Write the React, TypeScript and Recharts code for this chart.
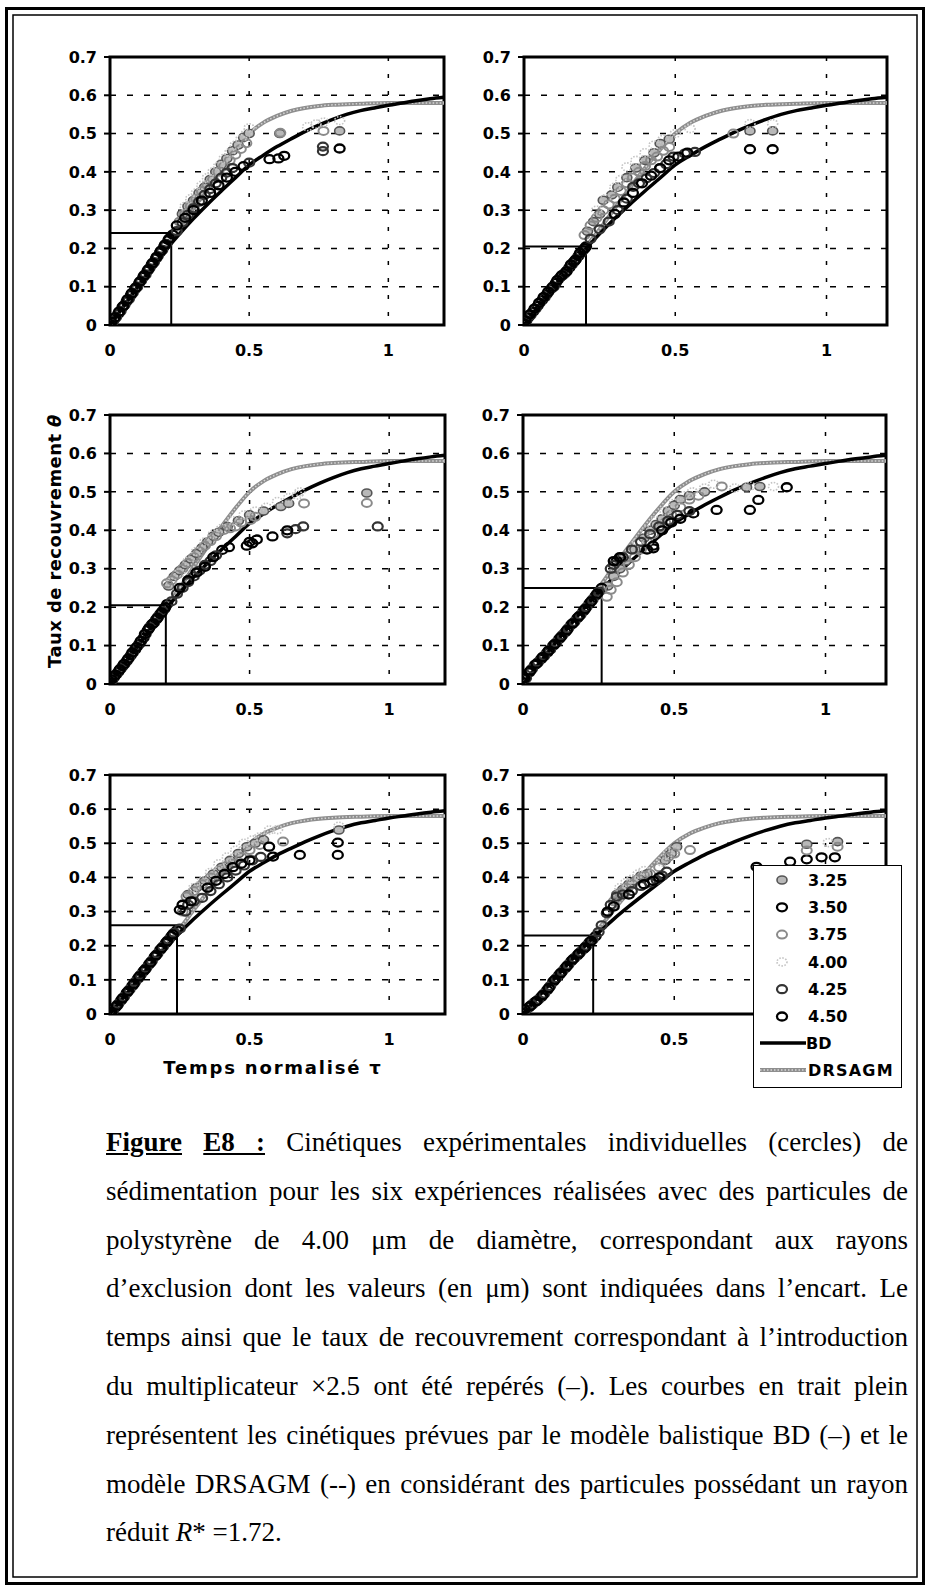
import React from 'react';
import {
  ComposedChart,
  CartesianGrid,
  XAxis,
  YAxis,
  Scatter,
  Line,
  ReferenceLine,
  ReferenceArea,
} from 'recharts';

type Pt = [number, number];

// exclusion radii (µm), one scatter series each
const SERIES_NAMES = ['3.25', '3.50', '3.75', '4.00', '4.25', '4.50'];
const X_TICKS = [0, 0.5, 1];
const Y_TICKS = [0, 0.1, 0.2, 0.3, 0.4, 0.5, 0.6, 0.7];

// model curves (same in every panel)
const BD_CURVE: Pt[] = [
  [0, 0], [0.05, 0.05], [0.1, 0.1], [0.15, 0.148], [0.2, 0.195], [0.25, 0.238],
  [0.3, 0.278], [0.35, 0.315], [0.4, 0.35], [0.45, 0.384], [0.5, 0.418],
  [0.55, 0.443], [0.6, 0.466], [0.65, 0.486], [0.7, 0.505], [0.75, 0.522],
  [0.8, 0.537], [0.85, 0.55], [0.9, 0.56], [0.95, 0.567], [1.0, 0.574],
  [1.05, 0.58], [1.1, 0.586], [1.15, 0.591], [1.2, 0.595],
];
const DRSAGM_CURVE: Pt[] = [
  [0, 0], [0.05, 0.05], [0.1, 0.1], [0.15, 0.15], [0.2, 0.2], [0.25, 0.25],
  [0.3, 0.305], [0.35, 0.358], [0.4, 0.41], [0.45, 0.458], [0.5, 0.5],
  [0.55, 0.528], [0.6, 0.546], [0.65, 0.559], [0.7, 0.567], [0.75, 0.572],
  [0.8, 0.575], [0.9, 0.578], [1.0, 0.58], [1.1, 0.58], [1.2, 0.58],
];

// panel 1
const P1_325: Pt[] = [[0.26, 0.29], [0.28, 0.31], [0.3, 0.325], [0.32, 0.345], [0.34, 0.36], [0.36, 0.38], [0.38, 0.4], [0.4, 0.42], [0.42, 0.435], [0.44, 0.455], [0.46, 0.47], [0.48, 0.49], [0.5, 0.5], [0.61, 0.5], [0.825, 0.507]];
const P1_350: Pt[] = [[0, 0], [0.015, 0.015], [0.03, 0.03], [0.045, 0.047], [0.06, 0.062], [0.075, 0.078], [0.09, 0.094], [0.105, 0.11], [0.12, 0.126], [0.135, 0.142], [0.15, 0.158], [0.165, 0.174], [0.18, 0.19], [0.195, 0.206], [0.21, 0.222], [0.225, 0.236], [0.573, 0.433], [0.605, 0.435], [0.626, 0.442]];
const P1_375: Pt[] = [[0.25, 0.27], [0.27, 0.29], [0.29, 0.31], [0.31, 0.33], [0.33, 0.35], [0.35, 0.365], [0.37, 0.38], [0.39, 0.4], [0.41, 0.415], [0.43, 0.43], [0.45, 0.445], [0.47, 0.46], [0.49, 0.475], [0.612, 0.502], [0.767, 0.507]];
const P1_400: Pt[] = [[0.27, 0.31], [0.29, 0.33], [0.31, 0.345], [0.33, 0.365], [0.35, 0.385], [0.37, 0.4], [0.39, 0.415], [0.41, 0.435], [0.43, 0.45], [0.45, 0.47], [0.47, 0.485], [0.49, 0.5], [0.5, 0.515], [0.71, 0.518], [0.74, 0.525], [0.767, 0.53], [0.825, 0.534]];
const P1_425: Pt[] = [[0.008, 0.004], [0.022, 0.02], [0.038, 0.036], [0.052, 0.052], [0.068, 0.068], [0.082, 0.084], [0.098, 0.1], [0.112, 0.116], [0.128, 0.132], [0.142, 0.148], [0.158, 0.164], [0.172, 0.18], [0.188, 0.196], [0.202, 0.212], [0.24, 0.245], [0.26, 0.268], [0.28, 0.288], [0.3, 0.305], [0.32, 0.322], [0.34, 0.34], [0.36, 0.355], [0.38, 0.37], [0.4, 0.385], [0.42, 0.398], [0.44, 0.41], [0.5, 0.424], [0.765, 0.454], [0.765, 0.466]];
const P1_450: Pt[] = [[0.005, 0.008], [0.018, 0.02], [0.033, 0.035], [0.048, 0.05], [0.063, 0.067], [0.078, 0.083], [0.093, 0.098], [0.108, 0.114], [0.123, 0.13], [0.138, 0.146], [0.153, 0.162], [0.168, 0.178], [0.183, 0.194], [0.198, 0.21], [0.213, 0.226], [0.24, 0.26], [0.27, 0.28], [0.3, 0.3], [0.33, 0.325], [0.36, 0.345], [0.39, 0.365], [0.42, 0.385], [0.45, 0.4], [0.48, 0.415], [0.825, 0.461]];

// panel 2
const P2_325: Pt[] = [[0.21, 0.245], [0.23, 0.27], [0.25, 0.29], [0.262, 0.326], [0.29, 0.34], [0.31, 0.36], [0.34, 0.385], [0.37, 0.41], [0.4, 0.43], [0.43, 0.45], [0.45, 0.474], [0.48, 0.485], [0.747, 0.507], [0.822, 0.507]];
const P2_350: Pt[] = [[0, 0.005], [0.015, 0.02], [0.03, 0.035], [0.045, 0.05], [0.06, 0.065], [0.075, 0.08], [0.09, 0.095], [0.105, 0.11], [0.12, 0.125], [0.135, 0.135], [0.15, 0.15], [0.165, 0.165], [0.18, 0.18], [0.195, 0.195], [0.205, 0.205], [0.747, 0.459], [0.822, 0.459]];
const P2_375: Pt[] = [[0.2, 0.235], [0.22, 0.26], [0.24, 0.28], [0.262, 0.3], [0.28, 0.315], [0.3, 0.33], [0.32, 0.35], [0.34, 0.37], [0.36, 0.385], [0.38, 0.4], [0.4, 0.415], [0.42, 0.43], [0.44, 0.44], [0.46, 0.455], [0.48, 0.465], [0.692, 0.5]];
const P2_400: Pt[] = [[0.24, 0.3], [0.27, 0.33], [0.3, 0.36], [0.32, 0.38], [0.34, 0.413], [0.37, 0.43], [0.4, 0.45], [0.43, 0.47], [0.46, 0.485], [0.5, 0.5], [0.549, 0.513], [0.747, 0.526], [0.822, 0.526]];
const P2_425: Pt[] = [[0.008, 0.012], [0.022, 0.026], [0.038, 0.042], [0.052, 0.058], [0.068, 0.072], [0.082, 0.088], [0.098, 0.1], [0.112, 0.118], [0.128, 0.13], [0.142, 0.142], [0.158, 0.158], [0.172, 0.172], [0.188, 0.188], [0.22, 0.225], [0.25, 0.25], [0.28, 0.27], [0.31, 0.3], [0.34, 0.33], [0.361, 0.361], [0.38, 0.37], [0.405, 0.383], [0.43, 0.397], [0.45, 0.409], [0.47, 0.42], [0.494, 0.44], [0.532, 0.448], [0.565, 0.452]];
const P2_450: Pt[] = [[0.005, 0.012], [0.02, 0.028], [0.035, 0.043], [0.05, 0.058], [0.065, 0.073], [0.08, 0.087], [0.095, 0.1], [0.11, 0.117], [0.125, 0.13], [0.14, 0.14], [0.155, 0.158], [0.17, 0.17], [0.185, 0.188], [0.2, 0.2], [0.3, 0.29], [0.33, 0.32], [0.36, 0.345], [0.39, 0.37], [0.42, 0.39], [0.45, 0.41], [0.48, 0.43], [0.51, 0.44], [0.54, 0.45]];

// panel 3
const P3_325: Pt[] = [[0.21, 0.255], [0.23, 0.28], [0.25, 0.295], [0.27, 0.31], [0.29, 0.325], [0.31, 0.34], [0.33, 0.355], [0.35, 0.37], [0.37, 0.385], [0.39, 0.395], [0.42, 0.41], [0.46, 0.425], [0.5, 0.44], [0.55, 0.45], [0.612, 0.462], [0.64, 0.47], [0.92, 0.497]];
const P3_350: Pt[] = [[0, 0.005], [0.015, 0.018], [0.03, 0.032], [0.045, 0.046], [0.06, 0.06], [0.075, 0.075], [0.09, 0.09], [0.105, 0.105], [0.12, 0.12], [0.135, 0.14], [0.15, 0.155], [0.165, 0.168], [0.18, 0.182], [0.195, 0.196], [0.205, 0.208], [0.402, 0.349], [0.426, 0.356], [0.51, 0.366], [0.526, 0.376], [0.582, 0.384]];
const P3_375: Pt[] = [[0.204, 0.262], [0.22, 0.27], [0.24, 0.285], [0.26, 0.3], [0.28, 0.315], [0.3, 0.33], [0.32, 0.345], [0.34, 0.36], [0.36, 0.372], [0.38, 0.385], [0.408, 0.401], [0.43, 0.405], [0.45, 0.41], [0.47, 0.42], [0.504, 0.427], [0.52, 0.435], [0.695, 0.47], [0.92, 0.471]];
const P3_400: Pt[] = [[0.22, 0.265], [0.25, 0.29], [0.28, 0.32], [0.31, 0.345], [0.34, 0.37], [0.37, 0.39], [0.4, 0.405], [0.44, 0.425], [0.48, 0.44], [0.52, 0.45], [0.56, 0.46], [0.6, 0.475], [0.64, 0.485], [0.671, 0.492], [0.68, 0.5]];
const P3_425: Pt[] = [[0.008, 0.01], [0.022, 0.025], [0.038, 0.04], [0.052, 0.052], [0.068, 0.068], [0.082, 0.082], [0.098, 0.098], [0.112, 0.112], [0.128, 0.13], [0.142, 0.148], [0.158, 0.16], [0.172, 0.175], [0.188, 0.19], [0.22, 0.215], [0.24, 0.235], [0.26, 0.25], [0.28, 0.265], [0.3, 0.28], [0.32, 0.295], [0.34, 0.31], [0.36, 0.32], [0.38, 0.335], [0.635, 0.392], [0.665, 0.403], [0.692, 0.41], [0.959, 0.41]];
const P3_450: Pt[] = [[0.005, 0.012], [0.02, 0.024], [0.035, 0.038], [0.05, 0.052], [0.065, 0.066], [0.08, 0.082], [0.095, 0.096], [0.11, 0.112], [0.125, 0.13], [0.14, 0.145], [0.155, 0.158], [0.17, 0.172], [0.185, 0.186], [0.198, 0.2], [0.25, 0.25], [0.28, 0.27], [0.31, 0.29], [0.34, 0.305], [0.37, 0.33], [0.49, 0.36], [0.5, 0.37], [0.635, 0.4]];

// panel 4
const P4_325: Pt[] = [[0.28, 0.255], [0.3, 0.28], [0.32, 0.3], [0.34, 0.32], [0.37, 0.35], [0.4, 0.38], [0.42, 0.4], [0.44, 0.415], [0.46, 0.43], [0.48, 0.45], [0.5, 0.465], [0.52, 0.48], [0.55, 0.49], [0.6, 0.5], [0.739, 0.512], [0.783, 0.514]];
const P4_350: Pt[] = [[0, 0.005], [0.02, 0.03], [0.04, 0.05], [0.06, 0.065], [0.08, 0.082], [0.1, 0.1], [0.12, 0.118], [0.14, 0.135], [0.16, 0.155], [0.18, 0.172], [0.2, 0.19], [0.22, 0.21], [0.24, 0.23], [0.26, 0.25], [0.31, 0.32], [0.321, 0.328], [0.431, 0.353], [0.563, 0.444], [0.64, 0.453], [0.75, 0.453], [0.778, 0.479], [0.872, 0.512]];
const P4_375: Pt[] = [[0.277, 0.227], [0.29, 0.245], [0.31, 0.265], [0.33, 0.29], [0.35, 0.31], [0.37, 0.33], [0.39, 0.35], [0.41, 0.37], [0.43, 0.39], [0.45, 0.405], [0.47, 0.42], [0.49, 0.44], [0.52, 0.46], [0.55, 0.48], [0.58, 0.49], [0.657, 0.514]];
const P4_400: Pt[] = [[0.38, 0.37], [0.41, 0.4], [0.44, 0.425], [0.47, 0.45], [0.5, 0.47], [0.53, 0.49], [0.56, 0.5], [0.6, 0.51], [0.63, 0.52], [0.7, 0.51], [0.75, 0.515], [0.828, 0.514]];
const P4_425: Pt[] = [[0.01, 0.015], [0.03, 0.04], [0.05, 0.057], [0.07, 0.073], [0.09, 0.09], [0.11, 0.108], [0.13, 0.127], [0.15, 0.145], [0.17, 0.162], [0.19, 0.18], [0.21, 0.2], [0.23, 0.22], [0.25, 0.24], [0.29, 0.3], [0.3, 0.31], [0.33, 0.33], [0.36, 0.35], [0.39, 0.37], [0.42, 0.39], [0.45, 0.41], [0.48, 0.425], [0.51, 0.44], [0.55, 0.45]];
const P4_450: Pt[] = [[0.005, 0.015], [0.025, 0.035], [0.045, 0.053], [0.065, 0.07], [0.085, 0.087], [0.105, 0.104], [0.125, 0.122], [0.145, 0.14], [0.165, 0.158], [0.185, 0.176], [0.205, 0.195], [0.225, 0.215], [0.245, 0.235], [0.3, 0.32], [0.32, 0.33], [0.41, 0.35], [0.43, 0.36], [0.46, 0.4], [0.49, 0.42], [0.52, 0.43]];

// panel 5
const P5_325: Pt[] = [[0.28, 0.35], [0.31, 0.37], [0.34, 0.39], [0.37, 0.41], [0.4, 0.43], [0.43, 0.45], [0.46, 0.47], [0.49, 0.49], [0.52, 0.5], [0.55, 0.51], [0.82, 0.539]];
const P5_350: Pt[] = [[0, 0], [0.02, 0.02], [0.04, 0.04], [0.06, 0.062], [0.08, 0.083], [0.1, 0.104], [0.12, 0.125], [0.14, 0.146], [0.16, 0.168], [0.18, 0.188], [0.2, 0.208], [0.22, 0.228], [0.24, 0.245], [0.584, 0.461], [0.68, 0.466], [0.816, 0.466], [0.816, 0.502]];
const P5_375: Pt[] = [[0.26, 0.3], [0.274, 0.344], [0.3, 0.36], [0.33, 0.38], [0.36, 0.4], [0.39, 0.42], [0.42, 0.435], [0.44, 0.441], [0.47, 0.46], [0.5, 0.48], [0.536, 0.495], [0.57, 0.49], [0.62, 0.505]];
const P5_400: Pt[] = [[0.3, 0.37], [0.33, 0.39], [0.36, 0.415], [0.39, 0.44], [0.42, 0.46], [0.45, 0.48], [0.48, 0.5], [0.51, 0.51], [0.536, 0.519], [0.571, 0.539], [0.6, 0.54], [0.82, 0.55]];
const P5_425: Pt[] = [[0.01, 0.008], [0.03, 0.03], [0.05, 0.05], [0.07, 0.072], [0.09, 0.094], [0.11, 0.115], [0.13, 0.135], [0.15, 0.156], [0.17, 0.177], [0.19, 0.198], [0.21, 0.218], [0.23, 0.238], [0.25, 0.25], [0.27, 0.3], [0.28, 0.32], [0.3, 0.33], [0.33, 0.34], [0.36, 0.36], [0.39, 0.38], [0.42, 0.4], [0.45, 0.42], [0.48, 0.435], [0.51, 0.45], [0.54, 0.46]];
const P5_450: Pt[] = [[0.005, 0.006], [0.025, 0.025], [0.045, 0.046], [0.065, 0.067], [0.085, 0.088], [0.105, 0.11], [0.125, 0.13], [0.145, 0.151], [0.165, 0.172], [0.185, 0.193], [0.205, 0.213], [0.225, 0.233], [0.25, 0.305], [0.26, 0.32], [0.29, 0.33], [0.35, 0.37], [0.38, 0.39], [0.41, 0.41], [0.44, 0.43], [0.47, 0.44], [0.5, 0.45], [0.57, 0.49]];

// panel 6
const P6_325: Pt[] = [[0.31, 0.35], [0.33, 0.365], [0.35, 0.38], [0.37, 0.39], [0.39, 0.405], [0.41, 0.41], [0.47, 0.45], [0.49, 0.47], [0.508, 0.49], [0.938, 0.497], [1.04, 0.505]];
const P6_350: Pt[] = [[0, 0.01], [0.02, 0.02], [0.04, 0.035], [0.06, 0.05], [0.08, 0.07], [0.1, 0.095], [0.12, 0.115], [0.14, 0.135], [0.16, 0.155], [0.18, 0.172], [0.2, 0.19], [0.22, 0.21], [0.24, 0.228], [0.772, 0.431], [0.883, 0.446], [0.938, 0.453], [0.987, 0.459], [1.031, 0.459]];
const P6_375: Pt[] = [[0.3, 0.33], [0.32, 0.355], [0.34, 0.37], [0.36, 0.38], [0.38, 0.395], [0.4, 0.405], [0.42, 0.41], [0.45, 0.43], [0.48, 0.46], [0.5, 0.47], [0.552, 0.48], [0.938, 0.479], [1.04, 0.49]];
const P6_400: Pt[] = [[0.32, 0.37], [0.34, 0.385], [0.36, 0.395], [0.38, 0.41], [0.4, 0.42], [0.46, 0.445], [0.48, 0.47], [0.5, 0.48], [1.009, 0.502]];
const P6_425: Pt[] = [[0.01, 0.012], [0.03, 0.028], [0.05, 0.042], [0.07, 0.06], [0.09, 0.082], [0.11, 0.105], [0.13, 0.125], [0.15, 0.145], [0.17, 0.164], [0.19, 0.182], [0.21, 0.2], [0.23, 0.218], [0.25, 0.24], [0.26, 0.26], [0.277, 0.295], [0.29, 0.32], [0.31, 0.344], [0.33, 0.35], [0.36, 0.36], [0.39, 0.375], [0.42, 0.385], [0.442, 0.392], [0.46, 0.405], [0.475, 0.417]];
const P6_450: Pt[] = [[0.005, 0.014], [0.025, 0.024], [0.045, 0.038], [0.065, 0.055], [0.085, 0.076], [0.105, 0.1], [0.125, 0.12], [0.145, 0.14], [0.165, 0.16], [0.185, 0.177], [0.205, 0.195], [0.225, 0.214], [0.28, 0.3], [0.3, 0.315], [0.35, 0.35], [0.4, 0.38], [0.43, 0.39], [0.45, 0.4]];

// ×2.5 multiplier marks: [tau, theta]
const MARKS: Pt[] = [[0.22, 0.24], [0.205, 0.205], [0.2, 0.205], [0.26, 0.25], [0.24, 0.26], [0.232, 0.23]];

const PANEL_SERIES: Pt[][][] = [
  [P1_325, P1_350, P1_375, P1_400, P1_425, P1_450],
  [P2_325, P2_350, P2_375, P2_400, P2_425, P2_450],
  [P3_325, P3_350, P3_375, P3_400, P3_425, P3_450],
  [P4_325, P4_350, P4_375, P4_400, P4_425, P4_450],
  [P5_325, P5_350, P5_375, P5_400, P5_425, P5_450],
  [P6_325, P6_350, P6_375, P6_400, P6_425, P6_450],
];

// plot-area boxes [left, top, width, height]
const BOXES = [
  [110, 57, 334, 268],
  [524, 57, 363, 268],
  [110, 415, 335, 269],
  [523, 415, 363, 269],
  [110, 775, 335, 239],
  [523, 775, 363, 239],
];

const MARKER_STYLES = [
  { stroke: '#555', fill: '#b8b8b8', strokeWidth: 1.6 },
  { stroke: '#000', fill: 'none', strokeWidth: 2.3 },
  { stroke: '#8a8a8a', fill: 'none', strokeWidth: 2 },
  { stroke: '#c4c4c4', fill: 'none', strokeWidth: 1.6, strokeDasharray: '1.5 1.5' },
  { stroke: '#333', fill: 'none', strokeWidth: 2.2 },
  { stroke: '#000', fill: 'none', strokeWidth: 2.3 },
];

const TICK_STYLE = { fontFamily: 'DejaVu Sans', fontWeight: 700, fontSize: 16, fill: '#000' };

const toObj = (pts: Pt[]) => pts.map(([x, y]) => ({ x, y }));

const makeShape = (i: number) => (props: any) => {
  const s = MARKER_STYLES[i];
  if (props.cx == null || props.cy == null) return <g />;
  return <ellipse cx={props.cx} cy={props.cy} rx={5} ry={4} {...s} />;
};

function Panel({
  series,
  mark,
  box,
  hideOne,
}: {
  series: Pt[][];
  mark: Pt;
  box: number[];
  hideOne?: boolean;
}) {
  const [pl, pt, pw, ph] = box;
  const YW = 60;
  const MT = 10;
  const MR = 16;
  const XH = 40;
  return (
    <div style={{ position: 'absolute', left: pl - YW, top: pt - MT }}>
      <ComposedChart
        width={YW + pw + MR}
        height={MT + ph + XH}
        margin={{ top: MT, right: MR, bottom: 0, left: 0 }}
      >
        <CartesianGrid vertical={false} stroke="#000" strokeDasharray="6 11" strokeWidth={1.5} />
        <CartesianGrid horizontal={false} stroke="#000" strokeDasharray="4 13" strokeWidth={1.5} />
        <XAxis
          type="number"
          dataKey="x"
          domain={[0, 1.2]}
          ticks={X_TICKS}
          interval={0}
          allowDataOverflow
          axisLine={false}
          tickLine={false}
          tickSize={6}
          tickMargin={14}
          height={XH}
          tick={TICK_STYLE}
          tickFormatter={(v: number) => (hideOne && v === 1 ? '' : String(v))}
        />
        <YAxis
          type="number"
          domain={[0, 0.7]}
          ticks={Y_TICKS}
          interval={0}
          allowDataOverflow
          width={YW}
          axisLine={false}
          tickLine={{ stroke: '#000', strokeWidth: 2 }}
          tickSize={6}
          tickMargin={7}
          tick={TICK_STYLE}
        />
        {series.map((pts, i) => (
          <Scatter
            key={SERIES_NAMES[i]}
            name={SERIES_NAMES[i]}
            data={toObj(pts)}
            dataKey="y"
            shape={makeShape(i)}
            isAnimationActive={false}
          />
        ))}
        <ReferenceLine
          segment={[{ x: 0, y: mark[1] }, { x: mark[0], y: mark[1] }]}
          stroke="#000"
          strokeWidth={2}
        />
        <ReferenceLine
          segment={[{ x: mark[0], y: 0 }, { x: mark[0], y: mark[1] }]}
          stroke="#000"
          strokeWidth={2}
        />
        <Line
          data={toObj(DRSAGM_CURVE)}
          dataKey="y"
          type="monotone"
          stroke="#8e8e8e"
          strokeWidth={4}
          dot={false}
          isAnimationActive={false}
        />
        <Line
          data={toObj(DRSAGM_CURVE)}
          dataKey="y"
          type="monotone"
          stroke="#d6d6d6"
          strokeWidth={1.5}
          strokeDasharray="1.5 2"
          dot={false}
          isAnimationActive={false}
        />
        <Line
          data={toObj(BD_CURVE)}
          dataKey="y"
          type="monotone"
          stroke="#000"
          strokeWidth={3.5}
          dot={false}
          isAnimationActive={false}
        />
        <ReferenceArea
          x1={0}
          x2={1.2}
          y1={0}
          y2={0.7}
          fill="none"
          stroke="#000"
          strokeWidth={3}
          ifOverflow="visible"
        />
      </ComposedChart>
    </div>
  );
}

function LegendBox() {
  const rowH = 27.3;
  return (
    <div
      style={{
        position: 'absolute',
        left: 753,
        top: 865,
        width: 149,
        height: 223,
        border: '1px solid #000',
        background: '#fff',
        boxSizing: 'border-box',
        fontFamily: 'DejaVu Sans',
        fontWeight: 700,
        fontSize: 16,
      }}
    >
      <svg width={149} height={223} style={{ position: 'absolute', left: -1, top: -1 }}>
        {SERIES_NAMES.map((n, i) => (
          <g key={n}>
            <ellipse cx={29} cy={15 + i * rowH} rx={5} ry={4} {...MARKER_STYLES[i]} />
            <text x={55} y={15 + i * rowH} dy="0.36em" fill="#000">{n}</text>
          </g>
        ))}
        <line x1={7} x2={53} y1={178} y2={178} stroke="#000" strokeWidth={3.5} />
        <text x={53} y={178} dy="0.36em" fill="#000">BD</text>
        <line x1={7} x2={53} y1={205} y2={205} stroke="#8e8e8e" strokeWidth={4} />
        <line x1={7} x2={53} y1={205} y2={205} stroke="#d6d6d6" strokeWidth={1.5} strokeDasharray="1.5 2" />
        <text x={55} y={205} dy="0.36em" fill="#000" letterSpacing={1.2}>DRSAGM</text>
      </svg>
    </div>
  );
}

const CAPTION_LINES = [
  'Cinétiques expérimentales individuelles (cercles) de',
  'sédimentation pour les six expériences réalisées avec des particules de',
  'polystyrène de 4.00 μm de diamètre, correspondant aux rayons',
  'd’exclusion dont les valeurs (en μm) sont indiquées dans l’encart. Le',
  'temps ainsi que le taux de recouvrement correspondant à l’introduction',
  'du multiplicateur ×2.5 ont été repérés (–). Les courbes en trait plein',
  'représentent les cinétiques prévues par le modèle balistique BD (–) et le',
  'modèle DRSAGM (--) en considérant des particules possédant un rayon',
];

function Caption() {
  const lineStyle: React.CSSProperties = {
    height: 48.8,
    lineHeight: '48.8px',
    textAlign: 'justify',
    textAlignLast: 'justify',
  };
  return (
    <div
      style={{
        position: 'absolute',
        left: 106,
        top: 1118,
        width: 802,
        fontFamily: 'Liberation Serif',
        fontSize: 27,
        color: '#000',
      }}
    >
      {CAPTION_LINES.map((l, i) => (
        <div key={i} style={lineStyle}>
          {i === 0 && (
            <>
              <b style={{ textDecoration: 'underline' }}>Figure</b>{' '}
              <b style={{ textDecoration: 'underline' }}>E8 :</b>{' '}
            </>
          )}
          {l}
        </div>
      ))}
      <div style={{ height: 48.8, lineHeight: '48.8px' }}>
        réduit <i>R</i>* =1.72.
      </div>
    </div>
  );
}

export default function App() {
  return (
    <div style={{ position: 'absolute', left: 0, top: 0, width: 927, height: 1587, background: '#fff', overflow: 'hidden' }}>
      <svg width={927} height={1587} style={{ position: 'absolute', left: 0, top: 0 }}>
        <rect x={6.5} y={8.5} width={917} height={1575} fill="none" stroke="#000" strokeWidth={3} />
        <rect x={13} y={15} width={904} height={1562} fill="none" stroke="#000" strokeWidth={1.5} />
      </svg>
      {PANEL_SERIES.map((s, i) => (
        <Panel key={i} series={s} mark={MARKS[i]} box={BOXES[i]} hideOne={i === 5} />
      ))}
      <LegendBox />
      <div
        style={{
          position: 'absolute',
          left: 55 - 160,
          top: 541 - 12,
          width: 320,
          height: 24,
          lineHeight: '24px',
          textAlign: 'center',
          transform: 'rotate(-90deg)',
          fontFamily: 'DejaVu Sans',
          fontWeight: 700,
          fontSize: 18,
          letterSpacing: 0.4,
        }}
      >
        Taux de recouvrement <i>θ</i>
      </div>
      <div
        style={{
          position: 'absolute',
          left: 273 - 160,
          top: 1068 - 12,
          width: 320,
          height: 24,
          lineHeight: '24px',
          textAlign: 'center',
          fontFamily: 'DejaVu Sans',
          fontWeight: 700,
          fontSize: 18,
          letterSpacing: 1.8,
        }}
      >
        Temps normalisé τ
      </div>
      <Caption />
    </div>
  );
}
